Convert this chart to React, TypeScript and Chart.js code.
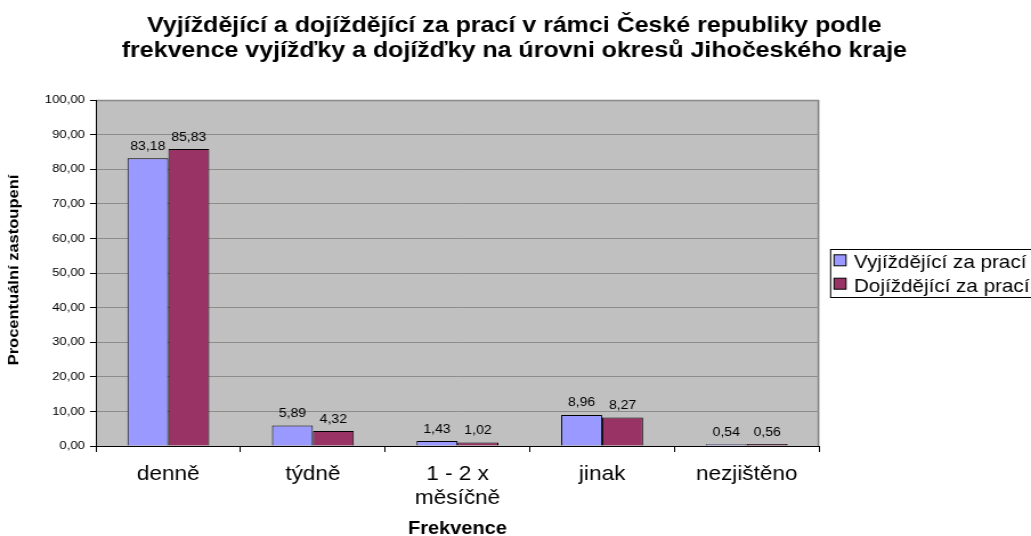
import React, { useEffect, useRef } from "react";
import { Chart, registerables } from "chart.js";

Chart.register(...registerables);

const titleLines = [
  "Vyjíždějící a dojíždějící za prací v rámci České republiky podle",
  "frekvence vyjížďky a dojížďky na úrovni okresů Jihočeského kraje",
];
const categories: (string | string[])[] = ["denně", "týdně", ["1 - 2 x", "měsíčně"], "jinak", "nezjištěno"];
const seriesNames = ["Vyjíždějící za prací", "Dojíždějící za prací"];
const vyjizdejici = [83.18, 5.89, 1.43, 8.96, 0.54];
const dojizdejici = [85.83, 4.32, 1.02, 8.27, 0.56];
const seriesColors = ["#9999ff", "#993366"];
const yTitle = "Procentuální zastoupení";
const xTitle = "Frekvence";

const FONT = "'Liberation Sans', Arial, sans-serif";
// the chart is drawn on a 904px-wide canvas, shown stretched to 1031px
const CW = 904;
const CH = 536;

const fmt = (v: number) => v.toFixed(2).replace(".", ",");

const decorPlugin = {
  id: "decor",
  beforeDraw(chart: any) {
    const { ctx, chartArea } = chart;
    const { left, top, right, bottom } = chartArea;
    ctx.save();
    ctx.fillStyle = "#ffffff";
    ctx.fillRect(0, 0, chart.width, chart.height);
    ctx.fillStyle = "#c0c0c0";
    ctx.fillRect(left, top, right - left, bottom - top);
    ctx.strokeStyle = "#808080";
    ctx.lineWidth = 1.5;
    ctx.beginPath();
    ctx.moveTo(left, top + 0.5);
    ctx.lineTo(right - 0.5, top + 0.5);
    ctx.lineTo(right - 0.5, bottom);
    ctx.stroke();
    ctx.restore();
  },
  afterDraw(chart: any) {
    const { ctx, chartArea } = chart;
    ctx.save();
    // title
    ctx.fillStyle = "#000";
    ctx.font = `bold 21.9px ${FONT}`;
    ctx.textAlign = "center";
    ctx.textBaseline = "alphabetic";
    titleLines.forEach((t, i) => ctx.fillText(t, 451, 32 + i * 25));
    // y axis title
    ctx.save();
    ctx.font = `bold 16.5px ${FONT}`;
    ctx.translate(11.8, (chartArea.top + chartArea.bottom) / 2 - 3);
    ctx.scale(0.82, 1);
    ctx.rotate(-Math.PI / 2);
    ctx.textBaseline = "middle";
    ctx.fillText(yTitle, 0, 0);
    ctx.restore();
    // data labels
    ctx.font = `12.3px ${FONT}`;
    ctx.textAlign = "center";
    ctx.textBaseline = "alphabetic";
    chart.data.datasets.forEach((ds: any, di: number) => {
      const meta = chart.getDatasetMeta(di);
      meta.data.forEach((bar: any, i: number) => {
        ctx.fillText(fmt(ds.data[i]), bar.x, bar.y - 8.5);
      });
    });
    // legend
    const lx = 727.8, ly = 249, lh = 48;
    ctx.fillStyle = "#fff";
    ctx.fillRect(lx, ly, CW - lx + 5, lh);
    ctx.strokeStyle = "#000";
    ctx.lineWidth = 1;
    ctx.strokeRect(lx + 0.5, ly + 0.5, CW - lx + 5, lh);
    ctx.font = `18.1px ${FONT}`;
    ctx.textAlign = "left";
    ctx.textBaseline = "alphabetic";
    seriesNames.forEach((name, i) => {
      const base = 268.3 + i * 23.4;
      const cy = base - 8;
      ctx.fillStyle = seriesColors[i];
      ctx.fillRect(lx + 3.5, cy - 5.5, 10.5, 11);
      ctx.strokeStyle = "#000";
      ctx.strokeRect(lx + 3.5, cy - 5.5, 10.5, 11);
      ctx.fillStyle = "#000";
      ctx.fillText(name, 748.8, base);
    });
    ctx.restore();
  },
};

export default function App() {
  const ref = useRef<HTMLCanvasElement | null>(null);
  useEffect(() => {
    document.body.style.margin = "0";
    const chart = new Chart(ref.current as HTMLCanvasElement, {
      type: "bar",
      data: {
        labels: categories as any,
        datasets: [
          {
            label: seriesNames[0],
            data: vyjizdejici,
            backgroundColor: seriesColors[0],
            borderColor: "#000",
            borderWidth: 1,
          },
          {
            label: seriesNames[1],
            data: dojizdejici,
            backgroundColor: seriesColors[1],
            borderColor: "#000",
            borderWidth: 1,
          },
        ],
      },
      options: {
        animation: false,
        responsive: false,
        devicePixelRatio: 1,
        layout: { padding: { top: 100, right: 185.9, left: 0, bottom: 0 } },
        datasets: { bar: { categoryPercentage: 0.566, barPercentage: 1.0 } },
        plugins: {
          legend: { display: false },
          title: { display: false },
          tooltip: { enabled: false },
        },
        scales: {
          x: {
            grid: {
              display: true,
              drawOnChartArea: false,
              offset: true,
              tickLength: 6,
              tickColor: "#000",
            },
            border: { color: "#000", width: 1 },
            ticks: {
              color: "#000",
              font: { family: FONT, size: 19.8, lineHeight: 1.19 },
              padding: 11,
              maxRotation: 0,
              autoSkip: false,
            },
            title: {
              display: true,
              text: xTitle,
              color: "#000",
              font: { family: FONT, size: 17.5, weight: "bold", lineHeight: 0.8 },
              padding: { top: 0, bottom: 0 },
            },
            afterFit: (s: any) => {
              s.height = 90;
            },
          },
          y: {
            min: 0,
            max: 100,
            ticks: {
              stepSize: 10,
              color: "#000",
              font: { family: FONT, size: 11.5 },
              padding: 4.4,
              callback: (v: any) => fmt(Number(v)),
            },
            grid: {
              color: "#8c8c8c",
              tickColor: "#000",
              tickLength: 5.3,
              lineWidth: 1,
            },
            border: { color: "#000", width: 1 },
            title: { display: false, text: yTitle },
            afterFit: (s: any) => {
              s.width = 84.2;
            },
          },
        },
      },
      plugins: [decorPlugin],
    });
    return () => chart.destroy();
  }, []);
  return (
    <div style={{ width: 1031, height: CH }}>
      <canvas ref={ref} width={CW} height={CH} style={{ width: 1031, height: CH, display: "block" }} />
    </div>
  );
}
